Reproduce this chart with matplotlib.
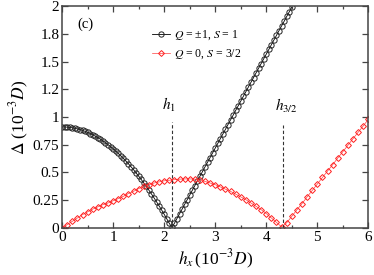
import matplotlib
matplotlib.use("Agg")
import matplotlib.pyplot as plt
from matplotlib.ticker import FixedLocator, MultipleLocator

plt.rcParams['font.family'] = ['Liberation Serif', 'DejaVu Serif']
plt.rcParams['mathtext.fontset'] = 'stix'

# Q = ±1, S = 1 (black circles)
h_q1 = [0.00, 0.05, 0.10, 0.15, 0.20, 0.25, 0.30, 0.35, 0.40, 0.45,
        0.50, 0.55, 0.60, 0.65, 0.70, 0.75, 0.80, 0.85, 0.90, 0.95,
        1.00, 1.05, 1.10, 1.15, 1.20, 1.25, 1.30, 1.35, 1.40, 1.45,
        1.50, 1.55, 1.60, 1.65, 1.70, 1.75, 1.80, 1.85, 1.90, 1.95,
        2.00, 2.05, 2.10, 2.15, 2.20, 2.25, 2.30, 2.35, 2.40, 2.45,
        2.50, 2.55, 2.60, 2.65, 2.70, 2.75, 2.80, 2.85, 2.90, 2.95,
        3.00, 3.05, 3.10, 3.15, 3.20, 3.25, 3.30, 3.35, 3.40, 3.45,
        3.50, 3.55, 3.60, 3.65, 3.70, 3.75, 3.80, 3.85, 3.90, 3.95,
        4.00, 4.05, 4.10, 4.15, 4.20, 4.25, 4.30, 4.35, 4.40, 4.45,
        4.50]
d_q1 = [0.911, 0.910, 0.909, 0.906, 0.903, 0.898, 0.893, 0.887, 0.879, 0.871,
        0.861, 0.851, 0.840, 0.827, 0.814, 0.800, 0.785, 0.768, 0.751, 0.733,
        0.714, 0.693, 0.672, 0.650, 0.627, 0.603, 0.578, 0.552, 0.525, 0.496,
        0.467, 0.437, 0.406, 0.374, 0.341, 0.307, 0.272, 0.236, 0.199, 0.162,
        0.123, 0.083, 0.042, 0.005, 0.042, 0.085, 0.127, 0.169, 0.212, 0.254,
        0.296, 0.339, 0.381, 0.424, 0.466, 0.508, 0.551, 0.593, 0.635, 0.678,
        0.720, 0.762, 0.805, 0.847, 0.889, 0.932, 0.974, 1.016, 1.059, 1.101,
        1.143, 1.186, 1.228, 1.271, 1.313, 1.355, 1.398, 1.440, 1.482, 1.525,
        1.567, 1.609, 1.652, 1.694, 1.736, 1.779, 1.821, 1.863, 1.906, 1.948,
        1.990]

# Q = 0, S = 3/2 (red diamonds)
h_q0 = [0.0, 0.1, 0.2, 0.3, 0.4, 0.5, 0.6, 0.7, 0.8, 0.9,
        1.0, 1.1, 1.2, 1.3, 1.4, 1.5, 1.6, 1.7, 1.8, 1.9,
        2.0, 2.1, 2.2, 2.3, 2.4, 2.5, 2.6, 2.7, 2.8, 2.9,
        3.0, 3.1, 3.2, 3.3, 3.4, 3.5, 3.6, 3.7, 3.8, 3.9,
        4.0, 4.1, 4.2, 4.3, 4.4, 4.5, 4.6, 4.7, 4.8, 4.9,
        5.0, 5.1, 5.2, 5.3, 5.4, 5.5, 5.6, 5.7, 5.8, 5.9,
        6.0]
d_q0 = [0.000, 0.030, 0.060, 0.090, 0.120, 0.145, 0.170, 0.190, 0.210, 0.225,
        0.245, 0.265, 0.285, 0.310, 0.330, 0.355, 0.375, 0.390, 0.405, 0.415,
        0.425, 0.430, 0.435, 0.440, 0.442, 0.442, 0.440, 0.430, 0.420, 0.405,
        0.390, 0.370, 0.350, 0.330, 0.305, 0.280, 0.255, 0.225, 0.195, 0.165,
        0.130, 0.090, 0.050, 0.010, 0.047, 0.105, 0.163, 0.220, 0.280, 0.338,
        0.396, 0.455, 0.513, 0.570, 0.630, 0.688, 0.746, 0.805, 0.863, 0.920,
        0.980]

y_ticks = [0, 0.25, 0.5, 0.75, 1.0, 1.25, 1.5, 1.75, 2.0]
y_tick_labels = ["0", "0.25", "0.5", "0.75", "1", "1.2", "1.5", "1.8", "2"]
x_ticks = [0, 1, 2, 3, 4, 5, 6]
x_tick_labels = ["0", "1", "2", "3", "4", "5", "6"]

h1 = 2.15
h32 = 4.32

fig = plt.figure(figsize=(3.74, 2.75), dpi=100)
ax = fig.add_axes([0.166, 0.171, 0.819, 0.807])

ax.plot(h_q1, d_q1, color='black', lw=0.6, marker='o', ms=3.8,
        mfc='none', mec='#222222', mew=0.7,
        label=r'$Q$ = ±1, $S$ = 1')
ax.plot(h_q0, d_q0, color='#ff4040', lw=0.5, marker='D', ms=3.0,
        mfc='none', mec='#ff2020', mew=0.7,
        label=r'$Q$ = 0, $S$ = 3/2')

ax.plot([h1, h1], [0, 0.955], ls='--', color='#333333', lw=0.8, dashes=(3, 2))
ax.plot([h32, h32], [0, 0.93], ls='--', color='#333333', lw=0.8, dashes=(3, 2))
ax.text(h1 - 0.05, 1.03, r'$h_1$', fontsize=11, ha='center', va='bottom')
ax.text(h32 + 0.08, 1.02, r'$h_{3/2}$', fontsize=11, ha='center', va='bottom')
ax.text(0.3, 1.8, '(c)', fontsize=10.5)

ax.set_xlim(0, 6)
ax.set_ylim(0, 2)
ax.xaxis.set_major_locator(FixedLocator(x_ticks))
ax.set_xticklabels(x_tick_labels)
ax.xaxis.set_minor_locator(MultipleLocator(0.5))
ax.yaxis.set_major_locator(FixedLocator(y_ticks))
ax.set_yticklabels(y_tick_labels)
ax.tick_params(which='both', direction='in', top=True, right=True,
               labelsize=11, color='#444444')
ax.tick_params(which='major', length=4.5, width=0.9, pad=2)
ax.tick_params(which='minor', length=2.5, width=0.9)
for s in ax.spines.values():
    s.set_linewidth(1.1)
    s.set_color('#444444')

ax.set_xlabel(r'$h_x\,$(10$^{-3}$$D$)', fontsize=12.5, labelpad=3)
ax.set_ylabel(r'$\Delta$ (10$^{-3}$$D$)', fontsize=12.5, labelpad=1)

leg = ax.legend(loc='upper left', bbox_to_anchor=(0.265, 0.935), frameon=False,
                fontsize=8.5, handlelength=1.6, handletextpad=0.3,
                labelspacing=0.45, borderpad=0.2)

fig.savefig('out.png', dpi=100)
